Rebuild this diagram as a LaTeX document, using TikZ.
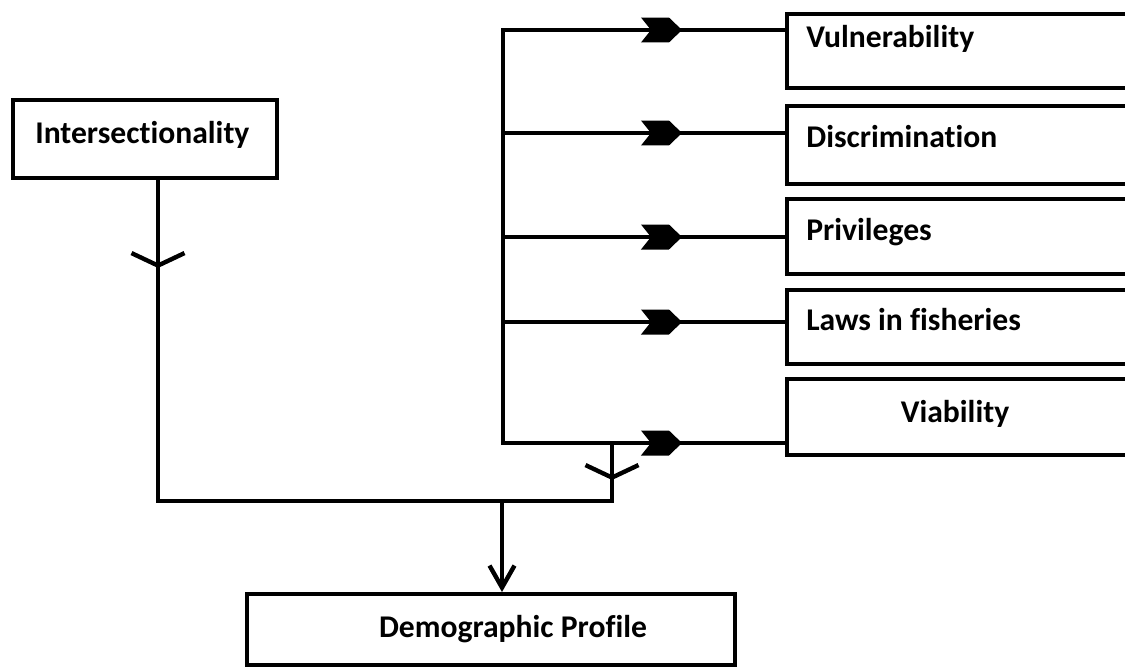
\documentclass[tikz,border=0pt]{standalone}
\usepackage{fontspec}
\setmainfont[Ligatures=NoCommon]{Carlito}
\usetikzlibrary{arrows.meta,decorations.markings}

\tikzset{
  box/.style={draw, line width=2.5pt, rectangle, anchor=north west, inner sep=0pt},
  txt/.style={font=\fontsize{18}{21}\selectfont\bfseries, inner sep=0pt},
  conn/.style={line width=2.5pt, line cap=rect},
  ybar/.style={-{Straight Barb[length=0.25cm,width=1.06cm]}},
  downbar/.style={-{Straight Barb[length=0.44cm,width=0.5cm]}},
  chev/.style={postaction={decorate}, decoration={markings,
      mark=at position 3.16cm with {\fill (-0.4cm,-0.25cm) -- (0.16cm,-0.25cm)
        -- (0.42cm,0) -- (0.16cm,0.25cm) -- (-0.4cm,0.25cm) -- (-0.2cm,0) -- cycle;}}}
}

\begin{document}
\begin{tikzpicture}[x=0.02cm, y=-0.02cm]
  \useasboundingbox (0,0) rectangle (1125,666);
  \clip (0,0) rectangle (1125,666);

  % Boxes
  \node[box, minimum width=5.28cm, minimum height=1.56cm] (inter) at (11,98) {};
  \node[box, minimum width=7.2cm, minimum height=1.48cm] (vul) at (785,12) {};
  \node[box, minimum width=7.2cm, minimum height=1.56cm] (dis) at (785,104) {};
  \node[box, minimum width=7.2cm, minimum height=1.5cm] (pri) at (785,197) {};
  \node[box, minimum width=7.2cm, minimum height=1.48cm] (law) at (785,288) {};
  \node[box, minimum width=7.2cm, minimum height=1.52cm] (via) at (785,377) {};
  \node[box, minimum width=9.76cm, minimum height=1.42cm] (demo) at (245,592) {};

  % Labels
  \node[txt, anchor=base west] (intertxt) at (35,143) {Intersectionality};
  \node[txt, anchor=base west] (vultxt) at (806,47) {Vulnerability};
  \node[txt, anchor=base west] (distxt) at (806,147) {Discrimination};
  \node[txt, anchor=base west] (pritxt) at (806,240) {Privileges};
  \node[txt, anchor=base west] (lawtxt) at (806,330) {Laws in fisheries};
  \node[txt, anchor=base] (viatxt) at (955,422) {Viability};
  \node[txt, anchor=base] (demotxt) at (513,637) {Demographic Profile};

  % Junctions
  \coordinate (b1) at (503,30);
  \coordinate (b2) at (503,133);
  \coordinate (b3) at (503,237);
  \coordinate (b4) at (503,322);
  \coordinate (b5) at (503,443);
  \coordinate (ly) at (158,268);
  \coordinate (jl) at (158,501);
  \coordinate (jr) at (612,501);
  \coordinate (ry) at (612,480);
  \coordinate (jm) at (502,501);

  % Bracket to the factors
  \draw[conn] (b1) -- (b5);
  \foreach \b/\t in {b1/vul, b2/dis, b3/pri, b4/law, b5/via}
    \draw[conn, chev] (\b) -- (\t.west |- \b);

  % Stems and bus
  \draw[conn, ybar] (inter.south -| ly) -- (ly);
  \draw[conn] (ly) -- (jl);
  \draw[conn, ybar] (jr |- b5) -- (ry);
  \draw[conn] (ry) -- (jr);
  \draw[conn] (jl) -- (jr);
  \draw[conn, downbar] (jm) -- (demo.north -| jm);

\end{tikzpicture}
\end{document}
